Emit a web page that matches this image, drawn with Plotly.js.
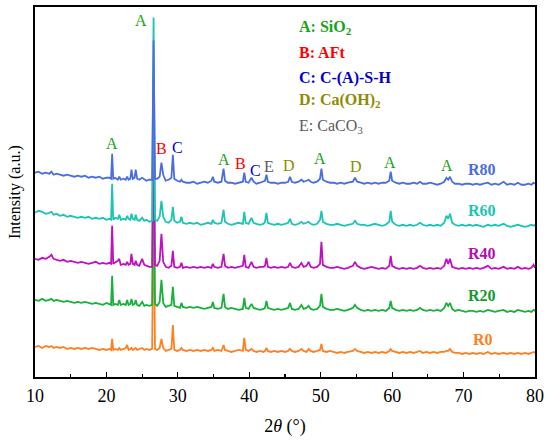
<!DOCTYPE html>
<html>
<head>
<meta charset="utf-8">
<script src="https://cdn.plot.ly/plotly-3.0.1.min.js"></script>
<style>html,body{margin:0;padding:0;background:#fff;}#chart{width:550px;height:443px;}</style>
</head>
<body>
<div id="chart"></div>
<script>
// 2θ grid (degrees)
const twoTheta = [
  10,10.5,11,11.5,12,12.3,12.6,13,13.5,14,14.5,15,15.5,16,16.5,17,17.5,18,18.5,19,19.5,20,
  20.4,20.65,20.8,20.95,21.2,21.6,21.8,22.0,22.4,22.7,22.9,23.1,23.35,23.5,23.7,23.95,24.1,24.3,24.6,25.0,25.3,25.6,26.0,
  26.4,26.6,26.8,27.1,27.45,27.7,27.95,28.3,28.7,29.1,29.3,29.5,29.9,30.3,30.5,30.7,31.2,
  31.7,32.2,32.7,33.2,33.7,34.2,34.7,34.9,35.1,35.6,36.1,36.4,36.6,37.0,37.5,38.0,38.5,39.1,39.3,39.5,39.9,40.3,40.6,41.0,41.5,
  42.0,42.2,42.4,42.6,43.0,43.5,44.0,44.5,45.0,45.45,45.7,45.95,46.4,46.9,47.3,47.6,48.0,48.3,48.6,49.0,49.5,49.9,50.1,50.3,50.8,51.3,
  51.8,52.3,52.8,53.3,53.8,54.5,54.8,55.1,55.6,56.1,56.6,57.1,57.6,58.1,58.6,59.1,59.6,59.8,60.0,60.5,61.0,
  61.5,62.0,62.5,63.0,63.5,63.9,64.3,64.8,65.3,65.8,66.3,66.8,67.3,67.6,67.85,68.1,68.4,68.8,69.3,69.8,70.3,70.8,
  71.3,71.8,72.3,72.8,73.4,73.9,74.4,74.9,75.6,76.1,76.6,77.1,77.6,78.1,78.6,79.1,79.5,79.8,80
];

// intensities (a.u.)
const R80 = [
  0,1,-1,0,-1,1,-2,-1,-2,-3,-2,-3,-4,-3,-4,-3,-5,-4,-5,-4,-6,-5,
  -5,-6,19,-6,-5,-7,-4,-7,-6,-7,-4,-7,-6,3,-6,-5,3,-6,-7,-5,-7,-8,-7,
  -7,132,-6,-6,-4,10,-2,-8,-7,-5,18,-6,-8,-9,-7,-9,-10,
  -10,-9,-11,-10,-9,-10,-8,-4,-9,-10,-9,4,-8,-10,-10,-11,-10,-9,0,-9,-10,-5,-9,-11,-10,
  -9,-8,-2,-9,-10,-10,-11,-10,-10,-9,-4,-9,-10,-9,-7,-9,-8,-7,-9,-10,-9,-6,4,-7,-9,-10,
  -10,-11,-10,-11,-10,-9,-5,-9,-10,-11,-10,-11,-10,-11,-10,-10,-8,1,-8,-10,-11,
  -10,-11,-11,-10,-11,-9,-11,-11,-10,-11,-12,-11,-9,-5,-7,-4,-9,-11,-11,-12,-11,-11,
  -12,-11,-12,-11,-10,-12,-11,-12,-9,-12,-11,-12,-10,-12,-12,-11,-12,-10,-11
];
const R60 = [
  0,2,1,-1,0,1,-2,-1,-3,-2,-4,-3,-4,-5,-4,-5,-4,-6,-5,-6,-5,-7,
  -6,-7,29,-7,-5,-6,-2,-7,-6,-7,-3,-6,-7,-1,-6,-7,-2,-7,-8,-5,-8,-7,-9,
  -8,195,-7,-8,-4,12,-4,-9,-10,-7,6,-8,-10,-9,-4,-10,-11,
  -10,-11,-10,-12,-11,-10,-11,-7,-10,-11,-10,3,-9,-11,-12,-11,-10,-11,1,-10,-11,-5,-10,-11,-12,
  -11,-9,0,-10,-11,-12,-11,-12,-11,-10,-6,-11,-12,-11,-9,-11,-10,-9,-11,-12,-11,-7,2,-9,-11,-12,
  -12,-11,-12,-13,-12,-11,-8,-11,-12,-12,-13,-12,-11,-12,-13,-12,-9,2,-9,-12,-13,
  -12,-13,-12,-13,-12,-10,-12,-13,-12,-13,-12,-13,-10,-3,-6,-1,-10,-12,-13,-12,-13,-12,
  -13,-12,-13,-14,-12,-13,-12,-13,-11,-13,-14,-13,-12,-13,-14,-13,-12,-13,-12
];
const R40 = [
  0,-1,1,0,2,4,0,-1,-2,-1,-3,-2,-3,-4,-3,-4,-5,-4,-3,-5,-4,-5,
  -4,-5,33,-5,-4,-2,0,-6,-5,-6,-3,-6,-5,5,-5,-6,-2,-6,-7,0,-6,-7,-8,
  -8,185,-6,-7,-2,25,-3,-8,-9,-7,8,-8,-9,-8,-4,-9,-8,
  -9,-8,-9,-8,-9,-8,-9,-5,-8,-9,-8,5,-7,-9,-8,-9,-8,-7,4,-8,-9,-3,-8,-9,-8,
  -8,-7,1,-8,-9,-8,-9,-8,-9,-8,-4,-8,-9,-8,-4,-8,-7,-3,-8,-9,-8,-5,17,-6,-8,-9,
  -9,-8,-9,-10,-9,-7,-3,-7,-9,-10,-9,-8,-9,-10,-9,-10,-7,3,-7,-9,-10,
  -9,-10,-9,-10,-9,-7,-9,-10,-9,-10,-9,-10,-7,0,-5,0,-8,-9,-10,-9,-10,-9,
  -10,-9,-10,-9,-7,-10,-9,-10,-8,-10,-9,-10,-8,-10,-9,-10,-9,-6,-9
];
const R20 = [
  0,-1,1,-1,0,1,-1,0,-1,-2,-1,-2,-3,-2,-3,-2,-3,-4,-3,-4,-5,-3,
  -4,-5,24,-5,-4,-5,0,-5,-4,-5,0,-5,-4,1,-5,-4,0,-5,-6,-2,-6,-5,-6,
  -5,170,-4,-6,-2,20,-3,-7,-6,-5,13,-6,-7,-8,-3,-7,-8,
  -7,-8,-7,-8,-9,-8,-7,-2,-8,-9,-8,6,-7,-9,-8,-9,-10,-9,2,-8,-9,-4,-8,-9,-10,
  -9,-8,-1,-8,-9,-10,-9,-10,-9,-8,-3,-9,-10,-9,-5,-9,-8,-6,-9,-10,-9,-6,6,-7,-9,-10,
  -10,-9,-10,-11,-10,-8,-5,-8,-10,-11,-10,-11,-10,-11,-10,-11,-8,-1,-8,-10,-11,
  -10,-11,-10,-11,-10,-8,-10,-11,-10,-11,-10,-11,-8,-3,-6,-3,-9,-11,-10,-11,-12,-11,
  -11,-12,-11,-12,-10,-11,-12,-11,-10,-12,-11,-12,-10,-11,-12,-11,-12,-10,-11
];
const R0 = [
  0,1,-1,1,0,1,-1,0,-1,0,-2,-1,-2,-1,-2,-1,-2,-1,-2,-3,-2,-3,
  -2,-3,8,-3,-2,-3,-1,-3,-2,-1,2,-3,-2,-1,-3,-2,-1,-3,-2,-1,-3,-2,-3,
  -2,150,-2,-3,-1,8,-1,-4,-3,-2,22,-3,-4,-3,-1,-3,-4,
  -3,-4,-3,-4,-3,-4,-3,-1,-4,-3,-4,2,-3,-4,-5,-4,-3,-4,9,-3,-4,-2,-4,-5,-4,
  -5,-4,-1,-4,-5,-4,-5,-4,-5,-4,-2,-4,-5,-4,-2,-4,-5,-2,-4,-5,-4,-3,3,-4,-5,-4,
  -5,-6,-5,-6,-5,-4,-2,-4,-5,-6,-5,-6,-5,-6,-5,-6,-4,-2,-4,-5,-6,
  -5,-6,-5,-6,-5,-4,-6,-5,-6,-5,-6,-5,-5,-4,-4,-2,-5,-6,-6,-7,-6,-7,
  -6,-7,-6,-7,-5,-7,-6,-7,-6,-7,-6,-7,-6,-7,-6,-7,-6,-5,-6
];

const seriesNames = ['R0','R20','R40','R60','R80'];
const seriesData = [R0, R20, R40, R60, R80];
const stackOffsets = [30, 77, 118, 164, 204];
const seriesColors = ['#ff8020','#19b03c','#c010c0','#1cc4b4','#4a6ee0'];
const labelColors = ['#ff8020','#149a30','#b010b0','#1cc4b4','#4a6ee0'];
const labelX = [72.7, 72.6, 72.6, 72.6, 72.6];
const labelY = [37, 81, 123, 166, 207];

// peak labels
const peakLetters = ['A','A','B','C','A','B','C','E','D','A','D','A','A'];
const peakLabelX  = [24.9,20.75,27.7,30.0,36.4,38.8,40.9,42.8,45.6,49.9,55.0,59.7,67.7];
const peakLabelY  = [356,233,228,229,217,213,206,210,211,218,210,214,211];
const letterColors = {A:'#16a316', B:'#ff0000', C:'#0000cd', D:'#8f8a00', E:'#5a5a5a'};

// phase key
const keyTexts = ['<b>A: SiO<sub>2</sub></b>','<b>B: AFt</b>','<b>C: C-(A)-S-H</b>','<b>D: Ca(OH)<sub>2</sub></b>','E: CaCO<sub>3</sub>'];
const keyColors = ['#16a316','#ff0000','#0000cd','#8f8a00','#5a5a5a'];
const keyY = [349, 324, 299, 276, 250];

const traces = seriesData.map((arr, i) => ({
  x: twoTheta,
  y: arr.map(v => v + stackOffsets[i]),
  type: 'scatter', mode: 'lines',
  line: {color: seriesColors[i], width: 1.8},
  name: seriesNames[i], showlegend: false, hoverinfo: 'skip'
}));

const serif = 'Liberation Serif, Times New Roman, serif';
const annotations = [];
peakLetters.forEach((t, i) => annotations.push({
  x: peakLabelX[i], y: peakLabelY[i], xref: 'x', yref: 'y', text: t, showarrow: false,
  font: {family: serif, size: 16, color: letterColors[t]}, xanchor: 'center', yanchor: 'middle'
}));
keyTexts.forEach((t, i) => annotations.push({
  x: 46.7, y: keyY[i], xref: 'x', yref: 'y', text: t, showarrow: false,
  font: {family: serif, size: 16, color: keyColors[i]}, xanchor: 'left', yanchor: 'middle'
}));
seriesNames.forEach((n, i) => annotations.push({
  x: labelX[i], y: labelY[i], xref: 'x', yref: 'y', text: '<b>' + n + '</b>', showarrow: false,
  font: {family: serif, size: 16, color: labelColors[i]}, xanchor: 'center', yanchor: 'middle'
}));
annotations.push({
  x: -0.04, y: 0.5, xref: 'paper', yref: 'paper', text: 'Intensity (a.u.)', textangle: -90,
  showarrow: false, font: {family: serif, size: 16, color: '#000'}, xanchor: 'center', yanchor: 'middle'
});

const layout = {
  width: 550, height: 443,
  margin: {l: 35, r: 15, t: 7, b: 66},
  paper_bgcolor: '#fff', plot_bgcolor: '#fff',
  showlegend: false,
  xaxis: {
    range: [10, 80], dtick: 10, tick0: 10,
    ticks: 'inside', ticklen: 5, tickwidth: 1.2, tickcolor: '#000',
    minor: {dtick: 5, ticks: 'inside', ticklen: 3, tickwidth: 1.2, tickcolor: '#000'},
    showline: true, linecolor: '#000', linewidth: 1.6, mirror: true,
    showgrid: false, zeroline: false,
    tickfont: {family: serif, size: 18, color: '#000'},
    ticklabelstandoff: 2,
    title: {text: '2<i>θ</i> (°)', font: {family: serif, size: 18, color: '#000'}, standoff: 14}
  },
  yaxis: {
    range: [0, 369.5], showticklabels: false, ticks: '',
    showline: true, linecolor: '#000', linewidth: 1.6, mirror: true,
    showgrid: false, zeroline: false
  },
  annotations: annotations
};

Plotly.newPlot('chart', traces, layout, {displayModeBar: false, staticPlot: true});
</script>
</body>
</html>
